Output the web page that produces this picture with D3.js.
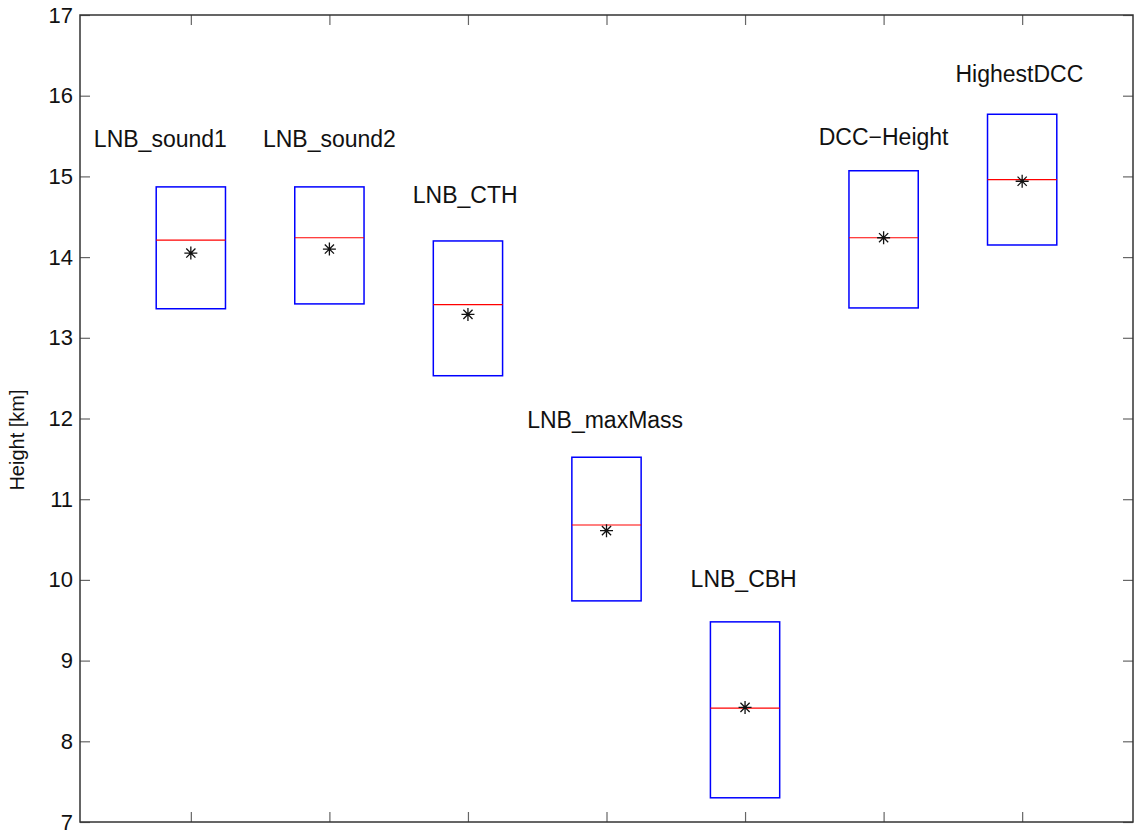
<!DOCTYPE html>
<html>
<head>
<meta charset="utf-8">
<script src="https://cdn.jsdelivr.net/npm/d3@7"></script>
<style>
  body { margin: 0; background: #fff; }
  svg { display: block; font-family: "Liberation Sans", Arial, Helvetica, sans-serif; }
  .tick line { stroke: #666; stroke-width: 1.2; }
  .tick text { font-size: 22px; fill: #111; }
  .lbl { font-size: 23px; fill: #111; }
</style>
</head>
<body>
<div id="chart"></div>
<script>
var width = 1134, height = 835
var margin = {left: 80, right: 1, top: 15, bottom: 13}

// data
const names = ["LNB_sound1", "LNB_sound2", "LNB_CTH", "LNB_maxMass", "LNB_CBH", "DCC\u2212Height", "HighestDCC"]
const xpos = [1, 2, 3, 4, 5, 6, 7]
const boxTop = [14.87, 14.87, 14.20, 11.52, 9.48, 15.07, 15.77]
const boxBottom = [13.36, 13.42, 12.53, 9.74, 7.30, 13.37, 14.15]
const medians = [14.21, 14.24, 13.41, 10.68, 8.41, 14.24, 14.96]
const means = [14.05, 14.10, 13.29, 10.61, 8.42, 14.24, 14.94]
// text annotation anchors (data coords)
const labelX = [0.78, 2.0, 2.98, 3.99, 4.99, 6.0, 6.98]
const labelY = [15.36, 15.36, 14.67, 11.88, 9.91, 15.39, 16.17]
const yTicks = [7, 8, 9, 10, 11, 12, 13, 14, 15, 16, 17]

var xScale = d3.scaleLinear().domain([0.2, 7.8]).range([margin.left, width - margin.right])
var yScale = d3.scaleLinear().domain([7, 17]).range([height - margin.bottom, margin.top])

var svg = d3.select("#chart").append("svg")
    .attr("width", width)
    .attr("height", height)

var x0 = margin.left, x1 = width - margin.right
var y0 = margin.top, y1 = height - margin.bottom

// ticks (inward)
svg.append("g")
    .attr("transform", "translate(" + x0 + ",0)")
    .call(d3.axisLeft(yScale).tickValues(yTicks).tickSize(-10).tickPadding(7).tickFormat(d3.format("d")))
    .call(g => g.select(".domain").remove())
svg.append("g")
    .attr("transform", "translate(" + x1 + ",0)")
    .call(d3.axisRight(yScale).tickValues(yTicks).tickSize(-10).tickFormat(""))
    .call(g => g.select(".domain").remove())
svg.append("g")
    .attr("transform", "translate(0," + y1 + ")")
    .call(d3.axisBottom(xScale).tickValues(xpos).tickSize(-10).tickFormat(""))
    .call(g => g.select(".domain").remove())
svg.append("g")
    .attr("transform", "translate(0," + y0 + ")")
    .call(d3.axisTop(xScale).tickValues(xpos).tickSize(-10).tickFormat(""))
    .call(g => g.select(".domain").remove())

// frame
svg.append("rect")
    .attr("x", x0).attr("y", y0)
    .attr("width", x1 - x0).attr("height", y1 - y0)
    .attr("fill", "none").attr("stroke", "#333").attr("stroke-width", 1.5)

// y label
svg.append("text")
    .attr("transform", "translate(24," + 440 + ")rotate(-90)")
    .attr("text-anchor", "middle")
    .style("font-size", "20px")
    .attr("fill", "#111")
    .text("Height [km]")

var halfW = 0.25
var boxes = svg.append("g")
xpos.forEach(function(v, i) {
    boxes.append("rect")
        .attr("x", xScale(v - halfW))
        .attr("y", yScale(boxTop[i]))
        .attr("width", xScale(v + halfW) - xScale(v - halfW))
        .attr("height", yScale(boxBottom[i]) - yScale(boxTop[i]))
        .attr("fill", "none").attr("stroke", "#0000ff").attr("stroke-width", 1.5)
    boxes.append("line")
        .attr("x1", xScale(v - halfW)).attr("x2", xScale(v + halfW))
        .attr("y1", yScale(medians[i])).attr("y2", yScale(medians[i]))
        .attr("stroke", "#ff0000").attr("stroke-width", 1.2)

    // asterisk marker
    var cx = xScale(v), cy = yScale(means[i]), r = 6.5
    var p = d3.path()
    for (var a = 0; a < 4; a++) {
        var t = a * Math.PI / 4
        var dx = Math.cos(t) * r, dy = Math.sin(t) * r
        p.moveTo(cx - dx, cy - dy)
        p.lineTo(cx + dx, cy + dy)
    }
    boxes.append("path")
        .attr("d", p.toString())
        .attr("stroke", "#111").attr("stroke-width", 1.3).attr("fill", "none")

    svg.append("text")
        .attr("class", "lbl")
        .attr("x", xScale(labelX[i]))
        .attr("y", yScale(labelY[i]))
        .attr("text-anchor", "middle")
        .text(names[i])
})
</script>
</body>
</html>
